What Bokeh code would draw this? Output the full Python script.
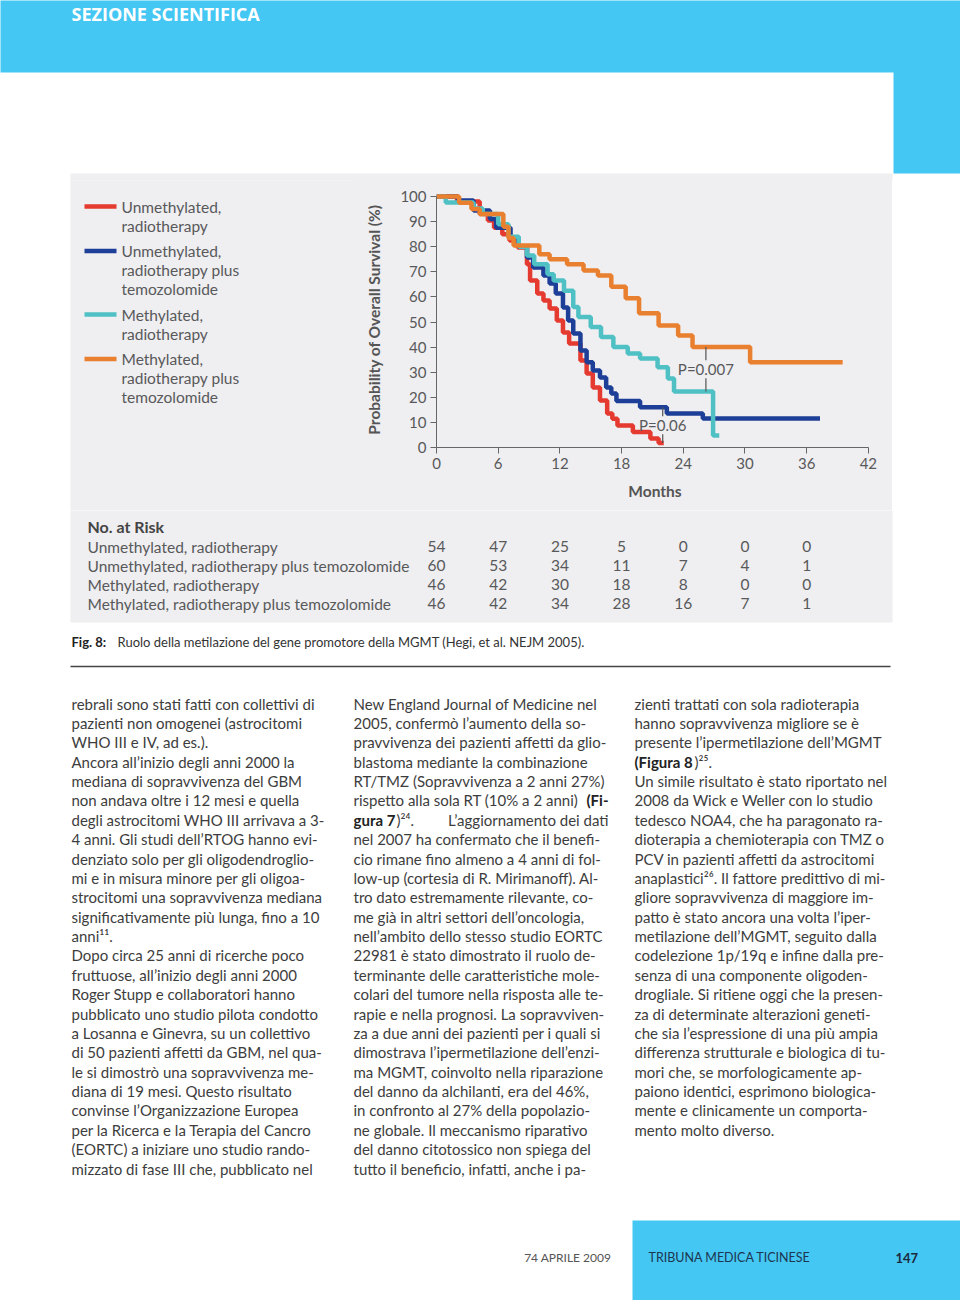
from bokeh.plotting import figure
from bokeh.models import Range1d, FixedTicker
from bokeh.layouts import column, row
from bokeh.embed import file_html
from bokeh.resources import INLINE
from bokeh.core.properties import value

# ---------------- data ----------------
month_ticks = [0, 6, 12, 18, 24, 30, 36, 42]
survival_ticks = [0, 10, 20, 30, 40, 50, 60, 70, 80, 90, 100]

series_names = ["Unmethylated, radiotherapy",
                "Unmethylated, radiotherapy plus temozolomide",
                "Methylated, radiotherapy",
                "Methylated, radiotherapy plus temozolomide"]
legend_labels = [["Unmethylated,", "radiotherapy"],
                 ["Unmethylated,", "radiotherapy plus", "temozolomide"],
                 ["Methylated,", "radiotherapy"],
                 ["Methylated,", "radiotherapy plus", "temozolomide"]]
series_colors = ["#e53a2f", "#1d3f97", "#4fc1c4", "#e9802f"]

unmeth_rt_months = [0, 2.0, 4.2, 5.0, 5.6, 6.4, 7.1, 7.9, 8.8, 9.1, 9.8, 10.4, 11.0, 11.7,
                    12.3, 12.9, 14.0, 14.6, 15.2, 15.9, 16.6, 17.1, 17.6, 19.1, 20.8, 21.6, 22.1]
unmeth_rt_surv = [100, 98, 93, 90.4, 87.6, 85, 82.5, 79.7, 73, 66.5, 61.4, 58.6, 55.4, 50.6,
                  45.8, 41.4, 34.7, 29.5, 23.9, 18.7, 13.5, 11.5, 8.8, 6.2, 3.6, 1.8, 1.8]

unmeth_rt_tmz_months = [0, 2.1, 3.6, 5.2, 5.8, 7.2, 8.0, 8.8, 9.4, 10.4, 11.0, 11.6, 12.3, 12.8,
                        13.3, 14.0, 14.6, 15.2, 15.9, 16.5, 17.0, 17.5, 19.8, 22.4, 25.9, 37.3]
unmeth_rt_tmz_surv = [100, 98.4, 94.4, 91, 87.6, 83.7, 80, 75.7, 71.7, 68.5, 65.3, 61.4, 55.8, 50.6,
                      45.4, 38.6, 34, 30.7, 27.9, 23.9, 21.5, 18.5, 16, 13.5, 11.6, 11.6]

meth_rt_months = [0, 0.9, 3.6, 4.5, 6.0, 7.0, 8.0, 8.8, 9.5, 10.8, 11.4, 12.4, 13.3, 13.8,
                  15.0, 16.0, 17.2, 18.6, 19.8, 21.5, 22.5, 23.1, 26.9, 27.5]
meth_rt_surv = [100, 97.6, 95.2, 93, 89, 84, 80, 76.5, 73, 69, 66.5, 62.5, 56, 52,
                48, 44, 40, 37.5, 35.5, 32, 27.5, 22.3, 4.8, 4.8]

meth_rt_tmz_months = [0, 2.2, 3.4, 4.2, 6.5, 7.0, 7.5, 10.0, 11.0, 12.7, 14.3, 15.7, 17.0, 18.4,
                      19.7, 21.6, 23.5, 24.9, 30.5, 39.5]
meth_rt_tmz_surv = [100, 97.5, 95, 93, 88, 83.5, 80.5, 77, 75, 73, 70.5, 68.5, 64, 59.5,
                    53.5, 48.6, 44.6, 40, 34, 34]

risk_months = [0, 6, 12, 18, 24, 30, 36]
risk_unmeth_rt = [54, 47, 25, 5, 0, 0, 0]
risk_unmeth_rt_tmz = [60, 53, 34, 11, 7, 4, 1]
risk_meth_rt = [46, 42, 30, 18, 8, 0, 0]
risk_meth_rt_tmz = [46, 42, 34, 28, 16, 7, 1]

p_value_labels = ["P=0.06", "P=0.007"]
p_value_months = [22.0, 26.2]

col1_lines = [
    "rebrali sono stati fatti con collettivi di",
    "pazienti non omogenei (astrocitomi",
    "WHO III e IV, ad es.).",
    "Ancora all’inizio degli anni 2000 la",
    "mediana di sopravvivenza del GBM",
    "non andava oltre i 12 mesi e quella",
    "degli astrocitomi WHO III arrivava a 3-",
    "4 anni. Gli studi dell’RTOG hanno evi-",
    "denziato solo per gli oligodendroglio-",
    "mi e in misura minore per gli oligoa-",
    "strocitomi una sopravvivenza mediana",
    "significativamente più lunga, fino a 10",
    "anni¹¹.",
    "Dopo circa 25 anni di ricerche poco",
    "fruttuose, all’inizio degli anni 2000",
    "Roger Stupp e collaboratori hanno",
    "pubblicato uno studio pilota condotto",
    "a Losanna e Ginevra, su un collettivo",
    "di 50 pazienti affetti da GBM, nel qua-",
    "le si dimostrò una sopravvivenza me-",
    "diana di 19 mesi. Questo risultato",
    "convinse l’Organizzazione Europea",
    "per la Ricerca e la Terapia del Cancro",
    "(EORTC) a iniziare uno studio rando-",
    "mizzato di fase III che, pubblicato nel",
]
col2_lines = [
    "New England Journal of Medicine nel",
    "2005, confermò l’aumento della so-",
    "pravvivenza dei pazienti affetti da glio-",
    "blastoma mediante la combinazione",
    "RT/TMZ (Sopravvivenza a 2 anni 27%)",
    "rispetto alla sola RT (10% a 2 anni)",
    "",
    "nel 2007 ha confermato che il benefi-",
    "cio rimane fino almeno a 4 anni di fol-",
    "low-up (cortesia di R. Mirimanoff). Al-",
    "tro dato estremamente rilevante, co-",
    "me già in altri settori dell’oncologia,",
    "nell’ambito dello stesso studio EORTC",
    "22981 è stato dimostrato il ruolo de-",
    "terminante delle caratteristiche mole-",
    "colari del tumore nella risposta alle te-",
    "rapie e nella prognosi. La sopravviven-",
    "za a due anni dei pazienti per i quali si",
    "dimostrava l’ipermetilazione dell’enzi-",
    "ma MGMT, coinvolto nella riparazione",
    "del danno da alchilanti, era del 46%,",
    "in confronto al 27% della popolazio-",
    "ne globale. Il meccanismo riparativo",
    "del danno citotossico non spiega del",
    "tutto il beneficio, infatti, anche i pa-",
]
col3_lines = [
    "zienti trattati con sola radioterapia",
    "hanno sopravvivenza migliore se è",
    "presente l’ipermetilazione dell’MGMT",
    "",
    "Un simile risultato è stato riportato nel",
    "2008 da Wick e Weller con lo studio",
    "tedesco NOA4, che ha paragonato ra-",
    "dioterapia a chemioterapia con TMZ o",
    "PCV in pazienti affetti da astrocitomi",
    "anaplastici²⁶. Il fattore predittivo di mi-",
    "gliore sopravvivenza di maggiore im-",
    "patto è stato ancora una volta l’iper-",
    "metilazione dell’MGMT, seguito dalla",
    "codelezione 1p/19q e infine dalla pre-",
    "senza di una componente oligoden-",
    "drogliale. Si ritiene oggi che la presen-",
    "za di determinate alterazioni geneti-",
    "che sia l’espressione di una più ampia",
    "differenza strutturale e biologica di tu-",
    "mori che, se morfologicamente ap-",
    "paiono identici, esprimono biologica-",
    "mente e clinicamente un comporta-",
    "mento molto diverso.",
]

# ---------------- style / layout ----------------
BLUE = "#45c7f3"
PANEL = "#efeef0"
WHITE = "#ffffff"
TXT = "#58595b"
BODY = "#3d3d3d"
FONT_NAME = "Lato"
CHART_FONT = value(FONT_NAME)
BODY_FONT = value(FONT_NAME)

PAGE_W, PAGE_H, M = 960, 1300, 0
TOP_H, MID_H = 180, 330
LEFT_W, CHART_W = 350, 542
CB_L, CB_R, CB_T, CB_B = 86, 19, 11, 63
X_END, Y_END = 42.5, 102
BLEED = 6  # panel fills run past canvas edges so no seams show
PANEL_X0, PANEL_X1 = 70, 892


def no_align(f):
    try:
        f.frame_align = False
    except Exception:
        pass
    return f


def deco(w, h, x0, y0):
    f = figure(width=w, height=h, x_range=Range1d(x0, x0 + w), y_range=Range1d(y0 + h, y0),
               toolbar_location=None, output_backend="svg",
               x_axis_location=None, y_axis_location=None, min_border=0)
    f.grid.visible = False
    f.outline_line_color = None
    f.background_fill_color = WHITE
    f.border_fill_color = WHITE
    return no_align(f)


# ---- top header ----
top = deco(PAGE_W, TOP_H, M, M)
top.quad(left=[-BLEED, 893], right=[960 + BLEED, 960 + BLEED], top=[-BLEED, 60], bottom=[72, 173],
         color=BLUE, line_color=None)
top.quad(left=[PANEL_X0], right=[PANEL_X1], top=[173], bottom=[TOP_H + M + BLEED], color=PANEL, line_color=None)
top.text(x=[71], y=[13], text=["SEZIONE SCIENTIFICA"], text_font=value("Open Sans"),
         text_font_style="bold", text_font_size="18px", text_color=WHITE, text_baseline="middle")

# ---- legend panel ----
y_mid0 = M + TOP_H
left = deco(LEFT_W, MID_H, M, y_mid0)
left.quad(left=[PANEL_X0], right=[M + LEFT_W + BLEED], top=[y_mid0 - BLEED], bottom=[y_mid0 + MID_H + BLEED],
          color=PANEL, line_color=None)
ly = 206
for lines, col in zip(legend_labels, series_colors):
    left.segment(x0=[84], y0=[ly], x1=[116], y1=[ly], line_color=col, line_width=4.5)
    left.text(x=[121] * len(lines), y=[ly + 19 * k for k in range(len(lines))], text=lines,
              text_font=CHART_FONT, text_font_size="15.5px", text_color=TXT, text_baseline="middle")
    ly += len(lines) * 19 + 6.5

# ---- chart ----
chart = figure(width=CHART_W, height=MID_H, x_range=Range1d(0, X_END), y_range=Range1d(0, Y_END),
               toolbar_location=None, output_backend="svg",
               min_border_left=CB_L, min_border_right=CB_R, min_border_top=CB_T, min_border_bottom=CB_B,
               x_axis_label="Months", y_axis_label="Probability of Overall Survival (%)")
no_align(chart)
chart.background_fill_color = PANEL
chart.border_fill_color = PANEL
chart.outline_line_color = None
chart.grid.visible = False

curves = [(unmeth_rt_months, unmeth_rt_surv), (unmeth_rt_tmz_months, unmeth_rt_tmz_surv),
          (meth_rt_months, meth_rt_surv), (meth_rt_tmz_months, meth_rt_tmz_surv)]
for (t, s), col in zip(curves, series_colors):
    chart.step(x=t, y=s, mode="after", line_color=col, line_width=4.5)


def level(t, s, m):
    v = s[0]
    for ti, si in zip(t, s):
        if ti <= m:
            v = si
    return v


pairs = [(curves[1], curves[0]), (curves[3], curves[2])]
gap = 3.6
for lab, m, (upper, lower) in zip(p_value_labels, p_value_months, pairs):
    hi = level(*upper, m)
    lo = level(*lower, m)
    mid = (hi + lo) / 2
    chart.segment(x0=[m, m], y0=[hi, mid - gap], x1=[m, m], y1=[mid + gap, lo],
                  line_color="#555555", line_width=1.2)
    chart.text(x=[m], y=[mid], text=[lab], text_font=CHART_FONT, text_font_size="15px",
               text_color=TXT, text_align="center", text_baseline="middle")

for ax, ticks, b in ((chart.xaxis[0], month_ticks, (0, 42)), (chart.yaxis[0], survival_ticks, (0, 100))):
    ax.ticker = FixedTicker(ticks=ticks)
    ax.bounds = b
    ax.axis_line_color = "#666666"
    ax.major_tick_line_color = "#666666"
    ax.major_tick_out = 6
    ax.major_tick_in = 0
    ax.minor_tick_line_color = None
    ax.major_label_text_font = FONT_NAME
    ax.major_label_text_font_size = "15px"
    ax.major_label_text_color = TXT
    ax.axis_label_text_font = FONT_NAME
    ax.axis_label_text_font_size = "15.5px"
    ax.axis_label_text_font_style = "bold"
    ax.axis_label_text_color = "#555555"
    ax.major_label_standoff = 4
chart.yaxis[0].axis_label_standoff = 14
chart.xaxis[0].axis_label_standoff = 10

# white filler right of the panel, so the row spans the page
right = deco(PAGE_W - LEFT_W - CHART_W, MID_H, M + LEFT_W + CHART_W, y_mid0)

# ---- bottom: risk table, caption, body, footer ----
y_bot0 = M + TOP_H + MID_H
bot_h = PAGE_H - TOP_H - MID_H
bot = deco(PAGE_W, bot_h, M, y_bot0)
frame_w = CHART_W - CB_L - CB_R
px_per_month = frame_w / X_END
month0_px = M + LEFT_W + CB_L
bot.extra_x_ranges = {"months": Range1d((M - month0_px) / px_per_month,
                                        (M + PAGE_W - month0_px) / px_per_month)}

bot.quad(left=[PANEL_X0], right=[PANEL_X1], top=[y_bot0 - BLEED], bottom=[622], color=PANEL, line_color=None)
bot.text(x=[87], y=[526], text=["No. at Risk"], text_font=CHART_FONT, text_font_style="bold",
         text_font_size="16px", text_color="#444444", text_baseline="middle")
risk_rows = [risk_unmeth_rt, risk_unmeth_rt_tmz, risk_meth_rt, risk_meth_rt_tmz]
for i, (name, counts) in enumerate(zip(series_names, risk_rows)):
    ry = 546 + i * 19
    bot.text(x=[87], y=[ry], text=[name], text_font=CHART_FONT, text_font_size="15.5px",
             text_color=TXT, text_baseline="middle")
    bot.text(x=risk_months, y=[ry] * len(counts), text=[str(c) for c in counts],
             x_range_name="months", text_font=CHART_FONT, text_font_size="15.5px",
             text_color=TXT, text_baseline="middle", text_align="center")

# caption
bot.text(x=[71], y=[641], text=["Fig. 8:"], text_font=BODY_FONT, text_font_style="bold",
         text_font_size="13px", text_color="#222222", text_baseline="middle")
bot.text(x=[117], y=[641], text=["Ruolo della metilazione del gene promotore della MGMT (Hegi, et al. NEJM 2005)."],
         text_font=BODY_FONT, text_font_size="13px", text_color="#333333", text_baseline="middle")
bot.segment(x0=[70], y0=[666], x1=[890], y1=[666], line_color="#444444", line_width=1.5)

# body columns
LINE_H = 19.375
for cx, lines in zip([71, 353, 634], [col1_lines, col2_lines, col3_lines]):
    ys = [703 + k * LINE_H for k in range(len(lines))]
    bot.text(x=[cx] * len(lines), y=ys, text=lines, text_font=BODY_FONT, text_font_size="15px",
             text_color=BODY, text_baseline="middle")
# bold references
bot.text(x=[608], y=[703 + 5 * LINE_H], text=["(Fi-"], text_font=BODY_FONT, text_font_style="bold",
         text_font_size="15px", text_color="#222222", text_baseline="middle", text_align="right")
bot.text(x=[353], y=[703 + 6 * LINE_H], text=["gura 7"], text_font=BODY_FONT, text_font_style="bold",
         text_font_size="15px", text_color="#222222", text_baseline="middle")
bot.text(x=[396], y=[703 + 6 * LINE_H], text=[")²⁴."], text_font=BODY_FONT,
         text_font_size="15px", text_color=BODY, text_baseline="middle")
bot.text(x=[608], y=[703 + 6 * LINE_H], text=["L’aggiornamento dei dati"], text_font=BODY_FONT,
         text_font_size="15px", text_color=BODY, text_baseline="middle", text_align="right")
bot.text(x=[634], y=[703 + 3 * LINE_H], text=["(Figura 8"], text_font=BODY_FONT, text_font_style="bold",
         text_font_size="15px", text_color="#222222", text_baseline="middle")
bot.text(x=[694], y=[703 + 3 * LINE_H], text=[")²⁵."], text_font=BODY_FONT,
         text_font_size="15px", text_color=BODY, text_baseline="middle")

# footer
bot.quad(left=[632], right=[960 + BLEED], top=[1220], bottom=[1303 + BLEED], color=BLUE, line_color=None)
bot.text(x=[617], y=[1257], text=["74  APRILE  2009"], text_font=BODY_FONT, text_font_size="12px",
         text_color="#555555", text_baseline="middle", text_align="right")
bot.text(x=[648], y=[1257], text=["TRIBUNA MEDICA TICINESE"], text_font=BODY_FONT, text_font_size="12.5px",
         text_color="#1c3550", text_baseline="middle")
bot.text(x=[895], y=[1257], text=["147"], text_font=BODY_FONT, text_font_style="bold", text_font_size="13px",
         text_color="#1c2a40", text_baseline="middle")

row_bg = (f"linear-gradient(to right, {WHITE} {PANEL_X0}px, {PANEL} {PANEL_X0}px, "
          f"{PANEL} {PANEL_X1}px, {WHITE} {PANEL_X1}px)")
mid_row = row(left, chart, right, styles={"background": row_bg})
p = column(top, mid_row, bot)
open("out.html", "w").write(file_html(p, INLINE))
